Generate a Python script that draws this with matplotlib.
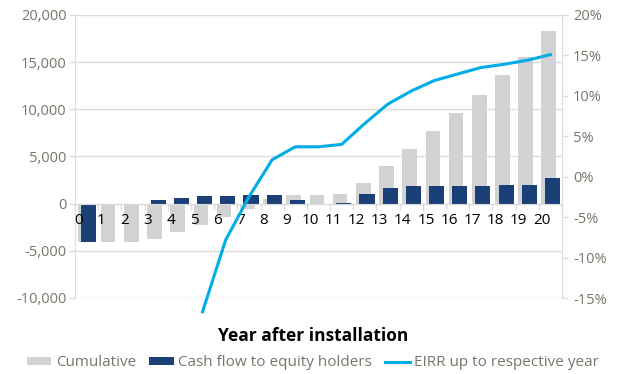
import matplotlib
matplotlib.use("Agg")
import matplotlib.pyplot as plt
import matplotlib.transforms as mtransforms
from matplotlib.ticker import FuncFormatter, MultipleLocator
import numpy as np

years = list(range(0, 21))
cumulative = [-4100, -4100, -4100, -3700, -3050, -2300, -1400, -520, 450, 900, 900,
              1050, 2200, 4000, 5800, 7700, 9600, 11550, 13600, 15500, 18300]
cash_flow = [-4100, 0, 0, 400, 650, 780, 800, 920, 920, 370, 0,
             100, 1050, 1700, 1820, 1820, 1820, 1830, 2000, 2000, 2750]
eirr_years = list(range(5, 21))
eirr = [-16.7, -7.8, -2.5, 2.1, 3.7, 3.7, 4.0, 6.6, 9.0, 10.6, 11.9, 12.7, 13.5, 13.9, 14.4, 15.1]

GRAY = "#d0d2d3"
NAVY = "#1b3f77"
CYAN = "#00ade6"
TXT = "#76766a"
GRID = "#dcdcdc"

plt.rcParams['font.family'] = ['Open Sans', 'DejaVu Sans']

fig = plt.figure(figsize=(6.25, 3.74), dpi=100)
ax = fig.add_axes([75/625, 1-298/374, (562-75)/625, (298-15)/374])
ax2 = ax.twinx()

x = np.arange(len(years))
ax.bar(x - 0.07, cumulative, width=0.63, color=GRAY, zorder=2, label="Cumulative")
ax.bar(x + 0.09, cash_flow, width=0.65, color=NAVY, zorder=3, label="Cash flow to equity holders")

ax.set_xlim(-0.5, 20.5)
ax.set_ylim(-10000, 20000)
ax.yaxis.set_major_locator(MultipleLocator(5000))
ax.yaxis.set_major_formatter(FuncFormatter(lambda v, p: f"{int(v):,}"))
ax.grid(axis='y', color=GRID, linewidth=1, zorder=0)
ax.set_axisbelow(True)

ax.spines['bottom'].set_position(('data', 0))
ax.spines['bottom'].set_color(GRID)
ax.spines['bottom'].set_zorder(4)
for s in ['left', 'right', 'top']:
    ax.spines[s].set_color(GRID)
ax.spines['top'].set_visible(False)
ax.set_xticks(np.arange(-0.5, 21, 1.0))
ax.set_xticklabels([])
ax.tick_params(axis='x', direction='out', length=4, color=GRID, width=1)
ax.tick_params(axis='y', direction='out', length=4, color=GRID, width=1,
               labelcolor=TXT, labelsize=10.5, pad=2)

offset = mtransforms.ScaledTranslation(-0.085, -0.203, fig.dpi_scale_trans)
for xi, yr in zip(x, years):
    ax.text(xi, 0, str(yr), ha='center', va='baseline', fontsize=11, color='black',
            transform=ax.transData + offset, zorder=5)

ax2.plot(eirr_years, eirr, color=CYAN, linewidth=2.2, clip_on=False, zorder=5,
         label="EIRR up to respective year")
ax2.set_ylim(-15, 20)
ax2.yaxis.set_major_locator(MultipleLocator(5))
ax2.yaxis.set_major_formatter(FuncFormatter(lambda v, p: f"{int(round(v))}%"))
ax2.tick_params(axis='y', direction='out', length=4, color=GRID, width=1,
                labelcolor=TXT, labelsize=10.5, pad=4)
for s in ['left', 'top', 'bottom']:
    ax2.spines[s].set_visible(False)
ax2.spines['right'].set_color(GRID)

fig.text(313/625, 1-341/374, "Year after installation", ha='center', va='baseline',
         fontsize=12.5, fontweight='bold', color='black')

h1, l1 = ax.get_legend_handles_labels()
h2, l2 = ax2.get_legend_handles_labels()
leg = fig.legend(h1 + h2, l1 + l2, loc='center', bbox_to_anchor=(313/625, 1-363/374),
                 ncol=3, frameon=False, fontsize=11, handlelength=1.6, handleheight=0.48,
                 columnspacing=0.85, handletextpad=0.3, labelcolor=TXT,
                 borderpad=0, borderaxespad=0)

fig.savefig("out.png", dpi=100)
